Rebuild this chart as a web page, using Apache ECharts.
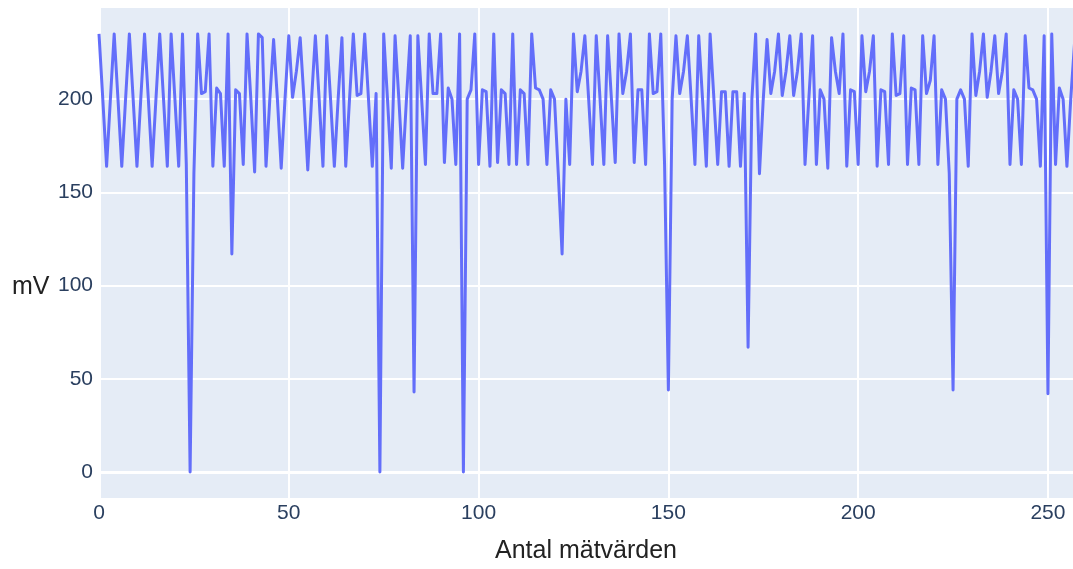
<!DOCTYPE html>
<html>
<head>
<meta charset="utf-8">
<script src="https://cdn.jsdelivr.net/npm/echarts@6/dist/echarts.min.js"></script>
<style>
html,body{margin:0;padding:0;background:#fff;}
#chart{width:1073px;height:569px;}
</style>
</head>
<body>
<div id="chart"></div>
<script>
// Measured values (mV), one per sample index 0..257
const mv = [
235,200,164,200,235,200,164,200,235,200,
164,200,235,200,164,200,235,200,164,235,
200,164,235,165,0,160,235,203,204,235,
164,206,203,164,235,117,205,203,165,235,
200,161,235,233,164,200,232,200,163,200,
234,201,215,233,200,162,200,234,200,164,
234,200,164,200,233,164,200,235,202,203,
235,200,164,203,0,235,200,163,234,200,
163,200,234,43,234,200,165,235,203,203,
235,166,206,200,165,235,0,200,205,235,
165,205,204,164,235,166,205,203,165,235,
165,205,203,165,235,206,205,200,165,205,
200,160,117,200,165,235,204,215,234,200,
165,234,200,165,234,200,166,235,203,215,
235,166,205,205,165,235,203,204,235,165,
44,200,234,203,215,234,200,165,234,200,
164,235,200,165,204,204,164,204,204,164,
203,67,200,235,160,200,232,203,215,235,
202,215,234,202,215,235,165,200,234,165,
205,200,163,233,215,203,235,164,205,204,
165,234,204,215,234,164,205,204,165,235,
202,203,234,165,206,205,165,234,203,210,
234,165,205,200,160,44,200,205,200,164,
235,202,215,235,201,215,234,203,215,235,
165,205,200,165,234,206,205,200,164,234,
42,235,165,206,200,164,200,230
];
const xTicks = [0, 50, 100, 150, 200, 250];
const yTicks = [0, 50, 100, 150, 200];
const xTitle = 'Antal mätvärden';
const yTitle = 'mV';

const points = mv.map((v, i) => [i, v]);

const chart = echarts.init(document.getElementById('chart'), null, {renderer: 'canvas'});
const tickFont = {fontFamily: 'Liberation Sans, Arial, sans-serif', fontSize: 21, color: '#2a3f5f'};
const titleFont = {fontFamily: 'Liberation Sans, Arial, sans-serif', fontSize: 25, color: '#222'};

chart.setOption({
  animation: false,
  backgroundColor: '#ffffff',
  grid: {left: 99, right: 0, top: 8, bottom: 70, show: true, backgroundColor: '#E5ECF6', borderWidth: 0},
  graphic: [{
    type: 'text', left: 12, top: 275, silent: true,
    style: {text: yTitle, font: '25px "Liberation Sans", Arial, sans-serif', fill: '#222'}
  }],
  xAxis: {
    type: 'value', min: 0, max: 256.6,
    axisLine: {show: false}, axisTick: {show: false}, splitLine: {show: false},
    axisLabel: Object.assign({customValues: xTicks, margin: 5}, tickFont),
    name: xTitle, nameLocation: 'middle', nameGap: 41, nameTextStyle: titleFont
  },
  yAxis: {
    type: 'value', min: -13.9, max: 248.9,
    axisLine: {show: false}, axisTick: {show: false}, splitLine: {show: false},
    axisLabel: Object.assign({customValues: yTicks, margin: 6}, tickFont)
  },
  series: [
    {
      name: 'grid', type: 'line', data: [], z: 1, silent: true,
      markLine: {
        silent: true, symbol: ['none', 'none'], animation: false,
        label: {show: false},
        lineStyle: {color: '#ffffff', width: 2, type: 'solid'},
        emphasis: {disabled: true},
        data: yTicks.map(v => ({yAxis: v, lineStyle: {width: v === 0 ? 3 : 2}}))
          .concat(xTicks.map(v => ({xAxis: v, lineStyle: {width: v === 0 ? 3 : 2}})))
      }
    },
    {
      name: 'mV', type: 'line', data: points, z: 3, zlevel: 1,
      showSymbol: false, symbol: 'none',
      lineStyle: {color: '#636EFA', width: 3, join: 'round'},
      itemStyle: {color: '#636EFA'}
    }
  ]
});
</script>
</body>
</html>
